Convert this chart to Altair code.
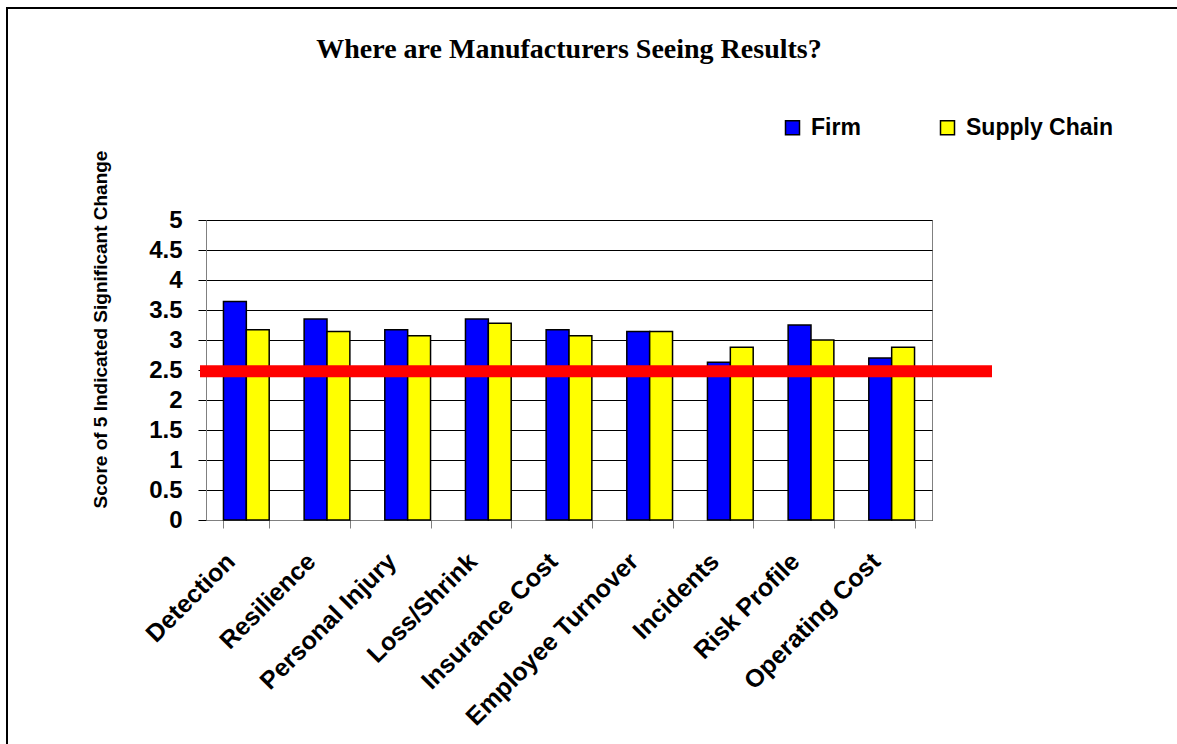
import altair as alt
import pandas as pd

# Survey results: average score (out of 5) per outcome area
categories = [
    "Detection", "Resilience", "Personal Injury", "Loss/Shrink",
    "Insurance Cost", "Employee Turnover", "Incidents", "Risk Profile",
    "Operating Cost",
]
series_names = ["Firm", "Supply Chain"]
firm_scores = [3.64, 3.35, 3.17, 3.35, 3.17, 3.14, 2.63, 3.25, 2.70]
supply_chain_scores = [3.17, 3.14, 3.07, 3.28, 3.07, 3.14, 2.88, 3.00, 2.88]
threshold = [2.48]
y_ticks = [0, 0.5, 1, 1.5, 2, 2.5, 3, 3.5, 4, 4.5, 5]
chart_title = ["Where are Manufacturers Seeing Results?"]
y_title = "Score of 5 Indicated Significant Change"

SANS = "Liberation Sans"
SERIF = "Liberation Serif"

rows = []
for cat, f, s in zip(categories, firm_scores, supply_chain_scores):
    rows.append({"category": cat, "series": series_names[0], "score": f})
    rows.append({"category": cat, "series": series_names[1], "score": s})
df = pd.DataFrame(rows)

W, H = 726, 300

y_axis = alt.Axis(
    values=y_ticks,
    format="~g",
    labelOverlap=False,
    grid=True,
    gridColor="black",
    gridWidth=1,
    tickSize=8,
    tickColor="black",
    domainColor="#808080",
    labelFont=SANS,
    labelFontWeight="bold",
    labelFontSize=24,
    labelColor="black",
    labelPadding=16,
    title=y_title,
    titleFont=SANS,
    titleFontWeight="bold",
    titleFontSize=19,
    titleColor="black",
    titleX=-106,
    titleY=109,
    titleAlign="center",
    titleBaseline="middle",
)
y_scale = alt.Scale(domain=[0, 5], nice=False)

bars = alt.Chart(df).mark_bar(stroke="black", strokeWidth=1.5).encode(
    x=alt.X(
        "category:N",
        sort=categories,
        scale=alt.Scale(paddingInner=0.433, paddingOuter=0.2165),
        axis=alt.Axis(
            title=None,
            labelAngle=315,
            labelAlign="right",
            labelBaseline="middle",
            labelFont=SANS,
            labelFontWeight="bold",
            labelFontSize=25,
            labelColor="black",
            labelPadding=29,
            labelOffset=-16,
            labelOverlap=False,
            tickBand="extent",
            tickSize=8,
            tickColor="#808080",
            domainColor="#808080",
            labelLimit=400,
        ),
    ),
    xOffset=alt.XOffset("series:N", sort=series_names,
                        scale=alt.Scale(paddingInner=0, paddingOuter=0)),
    y=alt.Y("score:Q", scale=y_scale, axis=y_axis),
    color=alt.Color(
        "series:N",
        sort=series_names,
        scale=alt.Scale(domain=series_names, range=["#0000FF", "#FFFF00"]),
        legend=alt.Legend(
            title=None,
            orient="none",
            legendX=575,
            legendY=-104,
            direction="horizontal",
            symbolType="square",
            symbolSize=196,
            symbolStrokeColor="black",
            symbolStrokeWidth=1.5,
            labelFont=SANS,
            labelFontWeight="bold",
            labelFontSize=23,
            labelColor="black",
            labelOffset=7,
            columnPadding=75,
        ),
    ),
)

# Red reference line across the chart
ref_line = alt.Chart(pd.DataFrame({"score": threshold})).mark_rule(
    color="#FF0000", strokeWidth=12
).encode(
    y=alt.Y("score:Q", scale=y_scale, axis=y_axis),
    x=alt.value(-6),
    x2=alt.value(786),
)

title = alt.Chart(pd.DataFrame({"t": chart_title})).mark_text(
    font=SERIF, fontWeight="bold", fontSize=28, align="center",
    baseline="alphabetic", color="black",
).encode(text="t:N", x=alt.value(W / 2), y=alt.value(-162))

# Outer frame; its right and bottom edges run past the canvas
frame = alt.Chart(pd.DataFrame({"k": [0]})).mark_rect(
    fill=None, stroke="black", strokeWidth=2
).encode(
    x=alt.value(-199), x2=alt.value(1100),
    y=alt.value(-212), y2=alt.value(700),
)

chart = alt.layer(bars, ref_line, title, frame).properties(
    width=W,
    height=H,
    autosize=alt.AutoSizeParams(type="none"),
    padding={"left": 206, "top": 220, "right": 245, "bottom": 224},
    background="white",
).configure_view(stroke="#808080", strokeWidth=1)

chart.save("out.html", embed_options={"renderer": "svg", "actions": False})
